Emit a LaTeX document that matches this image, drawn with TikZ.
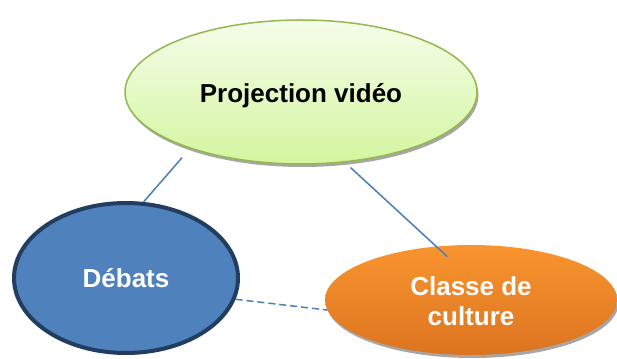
\documentclass[tikz,border=0pt]{standalone}
\usepackage{fontspec}
\setmainfont{Liberation Sans}
\usetikzlibrary{shapes.geometric,shadows}

\definecolor{greentop}{HTML}{F5FDE9}
\definecolor{greenbot}{HTML}{D4F5A0}
\definecolor{greenline}{HTML}{94B84E}
\definecolor{bluefill}{HTML}{4F81BD}
\definecolor{blueline}{HTML}{213D5F}
\definecolor{orangetop}{HTML}{F9952F}
\definecolor{orangebot}{HTML}{DC7420}
\definecolor{linkblue}{HTML}{4A7EBB}

\begin{document}
\begin{tikzpicture}
[
	x=1pt,y=1pt,
	idea/.style={ellipse,inner sep=0pt,align=center,font=\fontsize{26}{30}\selectfont\bfseries},
	softshadow/.style={drop shadow={shadow xshift=1.5pt,shadow yshift=-3pt,fill=black!35,opacity=1}},
	linkline/.style={draw=linkblue,line width=1.5pt}
]

	\useasboundingbox (0,0) rectangle (617,358);

	% ideas
	\node[idea,softshadow,draw=greenline,line width=1.5pt,top color=greentop,bottom color=greenbot,
		minimum width=352pt,minimum height=144pt,text height=28pt,text depth=6pt] (video) at (301,266) {Projection vidéo};
	\node[idea,draw=blueline,line width=4pt,fill=bluefill,text=white,
		minimum width=224pt,minimum height=150pt] (debats) at (126,80) {Débats};
	\node[idea,softshadow,top color=orangetop,bottom color=orangebot,text=white,
		minimum width=292pt,minimum height=110pt] (classe) at (471,58) {\\[-8pt]Classe de\\culture};

	% links
	\draw[linkline,shorten <=12pt] (video.207) -- (debats.77);
	\draw[linkline,shorten <=7.5pt,shorten >=-15pt] (video.302) -- (classe.123);
	\draw[linkline,dash pattern=on 7pt off 4pt] (debats.349) -- (classe.184);

\end{tikzpicture}
\end{document}
